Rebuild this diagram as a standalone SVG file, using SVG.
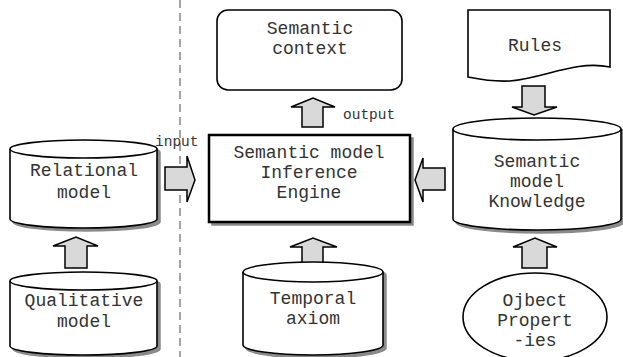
<svg xmlns="http://www.w3.org/2000/svg" width="623" height="357" viewBox="0 0 623 357">
<style>
.n{fill:#fff;stroke:#000;stroke-width:1.6}
.b{fill:#fff;stroke:#000;stroke-width:2.5}
.sh{fill:#8a8a8a;stroke:#8a8a8a;stroke-width:1.5}
.a{fill:#d9d9d9;stroke:#000;stroke-width:1.5;stroke-linejoin:miter}
.t{font-family:"Liberation Mono","Courier New",monospace;font-size:18px;fill:#333;text-anchor:middle}
.s{font-family:"Liberation Mono","Courier New",monospace;font-size:14.5px;fill:#333}
.d{stroke:#888;stroke-width:1.5;stroke-dasharray:8 5;fill:none}
</style>
<line class="d" x1="180" y1="0" x2="180" y2="357"/>
<g id="connectors">
<path class="a" d="M65,268 V246 H53 L76,237 L98,246 H87 V268 Z"/>
<path class="a" d="M165,167 H187 V156 L195,180 L187,202 V190 H165 Z"/>
<path class="a" d="M302,127 V107 H291 L313,98 L335,107 H323 V127 Z"/>
<path class="a" d="M445,168 H423 V158 L415,180 L423,202 V190 H445 Z"/>
<path class="a" d="M522,86 H545 V107 H557 L534,115 L512,107 H522 Z"/>
<path class="a" d="M302,267 V247 H290 L313,238 L337,247 H323 V267 Z"/>
<path class="a" d="M522,268 V247 H513 L535,238 L557,247 H547 V268 Z"/>
<text class="s" x="155" y="146">input</text>
<text class="s" x="343" y="119">output</text>
</g>
<g id="relational">
<path class="sh" transform="translate(3,3)" d="M10,149 V219 A73.5,9 0 0 0 157,219 V149 A73.5,9 0 0 0 10,149 Z"/>
<path class="n" d="M10,149 V219 A73.5,9 0 0 0 157,219 V149 A73.5,9 0 0 0 10,149 Z"/>
<path class="n" d="M10,149 A73.5,9 0 0 0 157,149" fill="none"/>
<text class="t" x="84" y="176">Relational</text>
<text class="t" x="84" y="198">model</text>
</g>
<g id="qualitative">
<path class="sh" transform="translate(3,3)" d="M10,281 V346 A73.5,9 0 0 0 157,346 V281 A73.5,9 0 0 0 10,281 Z"/>
<path class="n" d="M10,281 V346 A73.5,9 0 0 0 157,346 V281 A73.5,9 0 0 0 10,281 Z"/>
<path class="n" d="M10,281 A73.5,9 0 0 0 157,281" fill="none"/>
<text class="t" x="84" y="306">Qualitative</text>
<text class="t" x="84" y="327">model</text>
</g>
<g id="context">
<rect class="n" x="217" y="10" width="185" height="80" rx="11"/>
<text class="t" x="310" y="34">Semantic</text>
<text class="t" x="310" y="54">context</text>
</g>
<g id="engine">
<rect class="sh" x="212" y="138" width="201" height="87"/>
<rect class="b" x="209" y="135" width="201" height="87"/>
<text class="t" x="309" y="158">Semantic model</text>
<text class="t" x="309" y="178">Inference</text>
<text class="t" x="309" y="198">Engine</text>
</g>
<g id="rules">
<path class="n" d="M468,10 H610 V67 C575,60 545,78 510,81 C490,82 478,79 468,77 Z"/>
<text class="t" x="535" y="51">Rules</text>
</g>
<g id="knowledge">
<path class="sh" transform="translate(3,3)" d="M453,129 V219 A84,11 0 0 0 621,219 V129 A84,11 0 0 0 453,129 Z"/>
<path class="n" d="M453,129 V219 A84,11 0 0 0 621,219 V129 A84,11 0 0 0 453,129 Z"/>
<path class="n" d="M453,129 A84,11 0 0 0 621,129" fill="none"/>
<text class="t" x="537" y="167">Semantic</text>
<text class="t" x="537" y="187">model</text>
<text class="t" x="537" y="207">Knowledge</text>
</g>
<g id="temporal">
<path class="sh" transform="translate(3,3)" d="M243,272 V345 A70,10 0 0 0 383,345 V272 A70,10 0 0 0 243,272 Z"/>
<path class="n" d="M243,272 V345 A70,10 0 0 0 383,345 V272 A70,10 0 0 0 243,272 Z"/>
<path class="n" d="M243,272 A70,10 0 0 0 383,272" fill="none"/>
<text class="t" x="313" y="304">Temporal</text>
<text class="t" x="313" y="324">axiom</text>
</g>
<g id="objprop">
<ellipse class="n" cx="535" cy="317" rx="72" ry="44"/>
<text class="t" x="535" y="306">Ojbect</text>
<text class="t" x="535" y="326">Propert</text>
<text class="t" x="535" y="346">-ies</text>
</g>
</svg>
